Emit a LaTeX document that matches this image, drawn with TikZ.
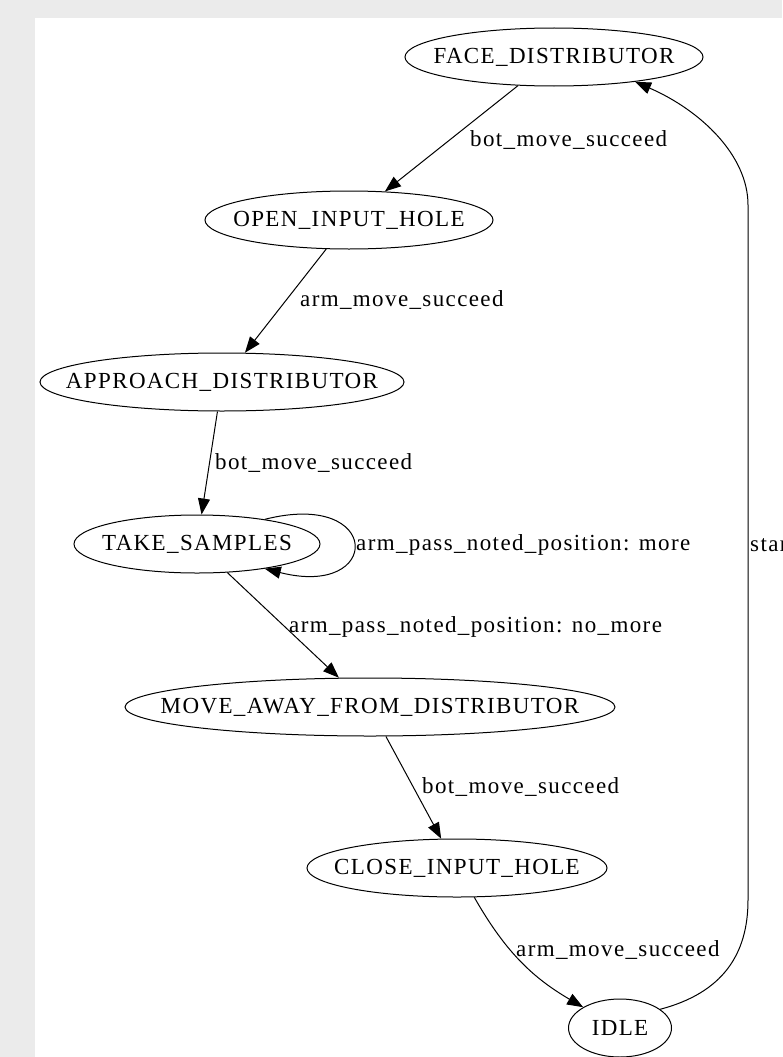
\documentclass[tikz,border=0pt]{standalone}
\usepackage{fontspec}
\setmainfont{Liberation Serif}[LetterSpace=6]
\usetikzlibrary{arrows.meta,shapes.geometric}

\definecolor{pagegray}{HTML}{EBEBEB}
\newcommand{\stname}[1]{\makebox[0pt]{#1}}

\begin{document}
\begin{tikzpicture}[x=1pt, y=-1pt,
    every node/.style={font=\fontsize{23}{27}\selectfont},
    state/.style={ellipse, draw, line width=1pt, inner sep=0pt, minimum height=58pt},
    trans/.style={-{Triangle[length=16pt, width=12pt]}, line width=1pt},
    lbl/.style={anchor=west, inner sep=0pt}]
    % page
    \clip (0,0) rectangle (782,1057);
    \fill[pagegray] (0,0) rectangle (782,1057);
    \fill[white] (35,18) rectangle (782,1057);

    % states
    \node[state, minimum width=298pt] (face) at (554,57) {\stname{FACE\_DISTRIBUTOR}};
    \node[state, minimum width=288pt] (open) at (349,220) {\stname{OPEN\_INPUT\_HOLE}};
    \node[state, minimum width=364pt] (approach) at (222,382) {\stname{APPROACH\_DISTRIBUTOR}};
    \node[state, minimum width=246pt] (take) at (197,544) {\stname{TAKE\_SAMPLES}};
    \node[state, minimum width=490pt] (move) at (370,707) {\stname{MOVE\_AWAY\_FROM\_DISTRIBUTOR}};
    \node[state, minimum width=300pt] (close) at (457,868) {\stname{CLOSE\_INPUT\_HOLE}};
    \node[state, minimum width=103pt] (idle) at (620,1028) {\stname{IDLE}};

    % transitions
    \draw[trans] (face) -- (open);
    \draw[trans] (open) -- (approach);
    \draw[trans] (approach) -- (take);
    \draw[trans] (take.20) .. controls +(118,-30) and +(118,30) .. (take.-20);
    \draw[trans] (take) -- (move);
    \draw[trans] (move) -- (close);
    \draw[trans] (close) to[bend right=15] (idle);
    \draw[trans] (idle.25) .. controls (722,993) and (748,955) .. (748,900)
      -- (748,205) .. controls (748,155) and (700,110) .. (face.-17);

    % labels
    \node[lbl] (l1) at (470,140) {bot\_move\_succeed};
    \node[lbl] (l2) at (300,300) {arm\_move\_succeed};
    \node[lbl] (l3) at (215,463) {bot\_move\_succeed};
    \node[lbl] (l4) at (356,545) {arm\_pass\_noted\_position: more};
    \node[lbl] (l5) at (289,627) {arm\_pass\_noted\_position: no\_more};
    \node[lbl] (l6) at (422,787) {bot\_move\_succeed};
    \node[lbl] (l7) at (516,950) {arm\_move\_succeed};
    \node[lbl] (l8) at (750,545) {start};
\end{tikzpicture}
\end{document}
